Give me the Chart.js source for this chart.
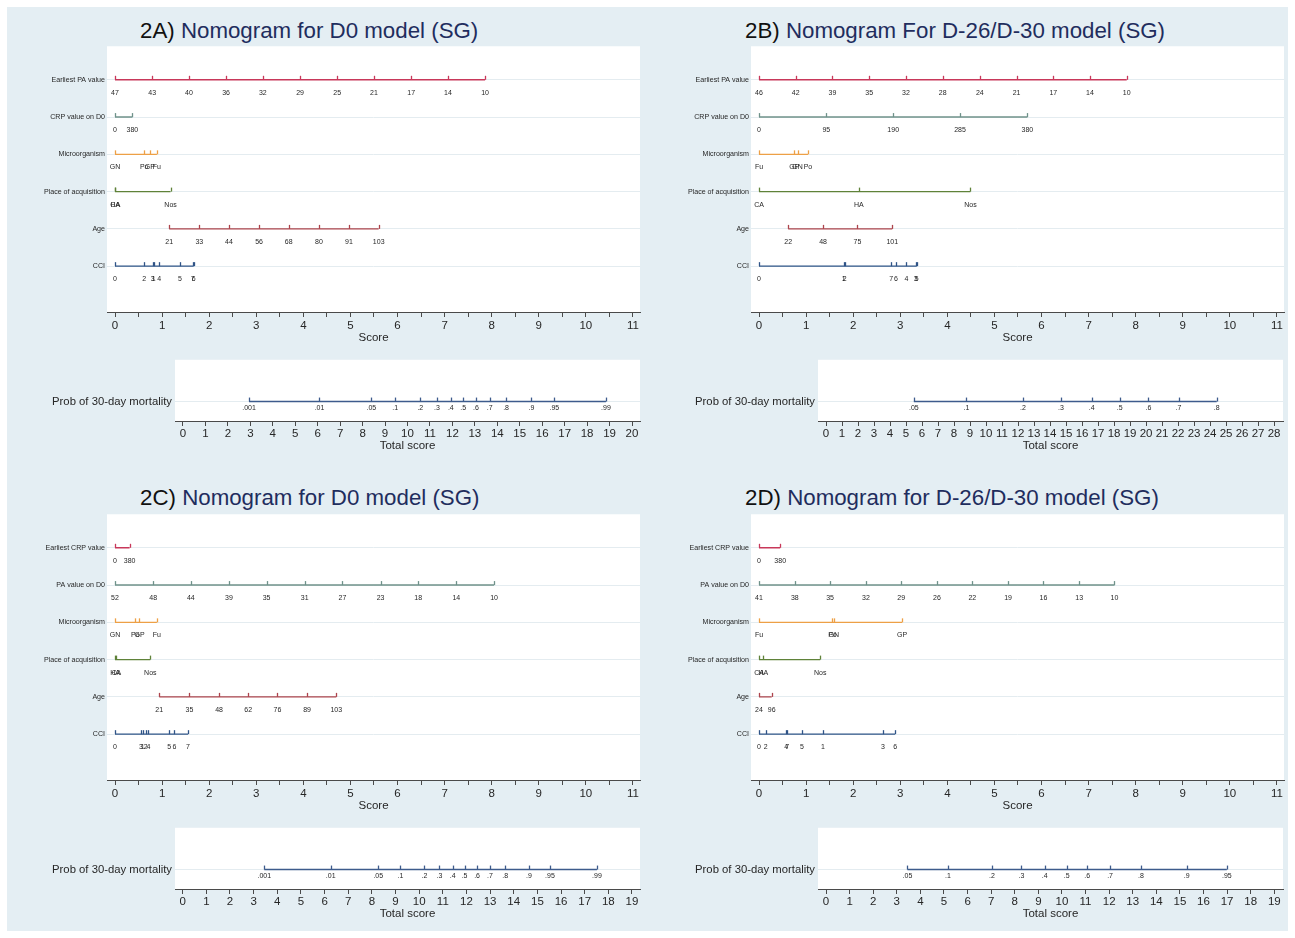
<!DOCTYPE html>
<html>
<head>
<meta charset="utf-8">
<script src="https://cdn.jsdelivr.net/npm/chart.js@4.4.1/dist/chart.umd.min.js"></script>
<style>
  html, body { margin: 0; padding: 0; background: #ffffff; }
  body { width: 1295px; height: 938px; position: relative; overflow: hidden;
         font-family: "Liberation Sans", Arial, sans-serif; }
  #bg { position: absolute; left: 7px; top: 7px; width: 1281px; height: 924px; background: #e4eef3; }
  .title { position: absolute; font-size: 22.3px; line-height: 26px; white-space: nowrap; color: #1f2d5e; }
  .title span { color: #111111; }
  canvas { position: absolute; }
</style>
</head>
<body>
<div id="bg"></div>

<div class="title" style="left:140px; top:18px;"><span>2A)</span> Nomogram for D0 model (SG)</div>
<div class="title" style="left:745px; top:18px;"><span>2B)</span> Nomogram For D-26/D-30 model (SG)</div>
<div class="title" style="left:140px; top:485px;"><span>2C)</span> Nomogram for D0 model (SG)</div>
<div class="title" style="left:745px; top:485px;"><span>2D)</span> Nomogram for D-26/D-30 model (SG)</div>

<canvas id="a_top" width="640" height="310" style="left:7px; top:40px;"></canvas>
<canvas id="a_bot" width="640" height="110" style="left:7px; top:350px;"></canvas>
<canvas id="b_top" width="640" height="310" style="left:651px; top:40px;"></canvas>
<canvas id="b_bot" width="640" height="110" style="left:651px; top:350px;"></canvas>
<canvas id="c_top" width="640" height="310" style="left:7px; top:508px;"></canvas>
<canvas id="c_bot" width="640" height="110" style="left:7px; top:818px;"></canvas>
<canvas id="d_top" width="640" height="310" style="left:651px; top:508px;"></canvas>
<canvas id="d_bot" width="640" height="110" style="left:651px; top:818px;"></canvas>

<script>
// ---------- Axis ticks ----------
const scoreTicks = [0, 0.5, 1, 1.5, 2, 2.5, 3, 3.5, 4, 4.5, 5, 5.5, 6, 6.5, 7, 7.5, 8, 8.5, 9, 9.5, 10, 10.5, 11];
const totalTicks19 = [0, 1, 2, 3, 4, 5, 6, 7, 8, 9, 10, 11, 12, 13, 14, 15, 16, 17, 18, 19];
const totalTicks20 = [0, 1, 2, 3, 4, 5, 6, 7, 8, 9, 10, 11, 12, 13, 14, 15, 16, 17, 18, 19, 20];
const totalTicks28 = [0, 1, 2, 3, 4, 5, 6, 7, 8, 9, 10, 11, 12, 13, 14, 15, 16, 17, 18, 19, 20, 21, 22, 23, 24, 25, 26, 27, 28];

const probLabelsWide = ['.001', '.01', '.05', '.1', '.2', '.3', '.4', '.5', '.6', '.7', '.8', '.9', '.95', '.99'];

// ---------- 2A) D0 model ----------
const rowsA = ['Earliest PA value', 'CRP value on D0', 'Microorganism', 'Place of acquisition', 'Age', 'CCI'];
const a_paLabels   = ['47', '43', '40', '36', '32', '29', '25', '21', '17', '14', '10'];
const a_paScores   = [0, 0.79, 1.57, 2.36, 3.14, 3.93, 4.72, 5.50, 6.29, 7.07, 7.86];
const a_crpLabels  = ['0', '380'];
const a_crpScores  = [0, 0.37];
const a_micLabels  = ['GN', 'Po', 'GP', 'Fu'];
const a_micScores  = [0, 0.62, 0.74, 0.89];
const a_plcLabels  = ['CA', 'HA', 'Nos'];
const a_plcScores  = [0, 0.01, 1.18];
const a_ageLabels  = ['21', '33', '44', '56', '68', '80', '91', '103'];
const a_ageScores  = [1.15, 1.79, 2.42, 3.06, 3.69, 4.33, 4.97, 5.60];
const a_cciLabels  = ['0', '2', '3', '1', '4', '5', '7', '6'];
const a_cciScores  = [0, 0.62, 0.80, 0.82, 0.94, 1.38, 1.65, 1.67];
const a_probScores = [2.94, 6.08, 8.39, 9.45, 10.57, 11.31, 11.93, 12.48, 13.05, 13.66, 14.39, 15.52, 16.54, 18.84];

// ---------- 2B) D-26/D-30 model ----------
const rowsB = ['Earliest PA value', 'CRP value on D0', 'Microorganism', 'Place of acquisition', 'Age', 'CCI'];
const b_paLabels   = ['46', '42', '39', '35', '32', '28', '24', '21', '17', '14', '10'];
const b_paScores   = [0, 0.78, 1.56, 2.34, 3.12, 3.90, 4.69, 5.47, 6.25, 7.03, 7.81];
const b_crpLabels  = ['0', '95', '190', '285', '380'];
const b_crpScores  = [0, 1.43, 2.85, 4.27, 5.70];
const b_micLabels  = ['Fu', 'GP', 'GN', 'Po'];
const b_micScores  = [0, 0.75, 0.82, 1.04];
const b_plcLabels  = ['CA', 'HA', 'Nos'];
const b_plcScores  = [0, 2.12, 4.49];
const b_ageLabels  = ['22', '48', '75', '101'];
const b_ageScores  = [0.62, 1.36, 2.09, 2.83];
const b_cciLabels  = ['0', '1', '2', '7', '6', '4', '3', '5'];
const b_cciScores  = [0, 1.80, 1.82, 2.81, 2.91, 3.13, 3.33, 3.35];
const b_probLabels = ['.05', '.1', '.2', '.3', '.4', '.5', '.6', '.7', '.8'];
const b_probScores = [5.49, 8.78, 12.31, 14.68, 16.60, 18.35, 20.15, 22.03, 24.42];

// ---------- 2C) D0 model ----------
const rowsC = ['Earliest CRP value', 'PA value on D0', 'Microorganism', 'Place of acquisition', 'Age', 'CCI'];
const c_crpLabels  = ['0', '380'];
const c_crpScores  = [0, 0.31];
const c_paLabels   = ['52', '48', '44', '39', '35', '31', '27', '23', '18', '14', '10'];
const c_paScores   = [0, 0.81, 1.61, 2.42, 3.22, 4.03, 4.83, 5.64, 6.44, 7.25, 8.05];
const c_micLabels  = ['GN', 'Po', 'GP', 'Fu'];
const c_micScores  = [0, 0.43, 0.52, 0.89];
const c_plcLabels  = ['HA', 'CA', 'Nos'];
const c_plcScores  = [0, 0.03, 0.75];
const c_ageLabels  = ['21', '35', '48', '62', '76', '89', '103'];
const c_ageScores  = [0.94, 1.58, 2.21, 2.83, 3.45, 4.08, 4.70];
const c_cciLabels  = ['0', '3', '1', '2', '4', '5', '6', '7'];
const c_cciScores  = [0, 0.55, 0.59, 0.65, 0.71, 1.15, 1.26, 1.55];
const c_probScores = [3.45, 6.26, 8.27, 9.21, 10.22, 10.86, 11.42, 11.92, 12.45, 12.99, 13.64, 14.64, 15.53, 17.52];

// ---------- 2D) D-26/D-30 model ----------
const rowsD = ['Earliest CRP value', 'PA value on D0', 'Microorganism', 'Place of acquisition', 'Age', 'CCI'];
const d_crpLabels  = ['0', '380'];
const d_crpScores  = [0, 0.45];
const d_paLabels   = ['41', '38', '35', '32', '29', '26', '22', '19', '16', '13', '10'];
const d_paScores   = [0, 0.76, 1.51, 2.27, 3.02, 3.78, 4.53, 5.29, 6.04, 6.80, 7.55];
const d_micLabels  = ['Fu', 'Po', 'GN', 'GP'];
const d_micScores  = [0, 1.56, 1.59, 3.04];
const d_plcLabels  = ['CA', 'HA', 'Nos'];
const d_plcScores  = [0, 0.09, 1.30];
const d_ageLabels  = ['24', '96'];
const d_ageScores  = [0, 0.27];
const d_cciLabels  = ['0', '2', '4', '7', '5', '1', '3', '6'];
const d_cciScores  = [0, 0.14, 0.58, 0.60, 0.91, 1.36, 2.63, 2.89];
const d_probLabels = ['.05', '.1', '.2', '.3', '.4', '.5', '.6', '.7', '.8', '.9', '.95'];
const d_probScores = [3.45, 5.17, 7.03, 8.28, 9.27, 10.20, 11.07, 12.04, 13.35, 15.29, 16.99];

// ---------- Styling ----------
const FONT = '"Liberation Sans", Arial, Helvetica, sans-serif';
const rowColors = ['#c8385a', '#6f928a', '#eda046', '#5f8239', '#ad444c', '#2f5487'];
const probColor = '#3d5b8c';
const textColor = '#262626';
const axisColor = '#4a4a4a';
const rowGridColor = '#e4ecf0';

Chart.defaults.font.family = FONT;
Chart.defaults.animation = false;

// White plot region, then the tick marks and value labels of every scale line
const nomogramMarks = {
  id: 'nomogramMarks',
  beforeDraw(chart) {
    const { ctx, chartArea: a } = chart;
    ctx.save();
    ctx.fillStyle = '#ffffff';
    ctx.fillRect(a.left, a.top, a.right - a.left, a.bottom - a.top);
    ctx.restore();
  },
  afterDatasetsDraw(chart) {
    const ctx = chart.ctx;
    chart.data.datasets.forEach((ds, i) => {
      const meta = chart.getDatasetMeta(i);
      ctx.save();
      ctx.strokeStyle = ds.borderColor;
      ctx.lineWidth = 1.3;
      ctx.fillStyle = textColor;
      ctx.font = ds.markFont;
      ctx.textAlign = 'center';
      ctx.textBaseline = 'middle';
      meta.data.forEach((pt, j) => {
        const x = Math.round(pt.x) + 0.5;
        ctx.beginPath();
        ctx.moveTo(x, pt.y);
        ctx.lineTo(x, pt.y - 4);
        ctx.stroke();
        ctx.fillText(ds.markLabels[j], pt.x, pt.y + ds.labelGap);
      });
      ctx.restore();
    });
  }
};

function scaleLine(scores, labels, row, color, gap) {
  return {
    data: scores.map(s => ({ x: s, y: row })),
    markLabels: labels,
    markFont: '7px ' + FONT,
    labelGap: gap,
    showLine: true,
    borderColor: color,
    borderWidth: 1.4,
    pointRadius: 0,
    pointHoverRadius: 0,
    tension: 0
  };
}

function pointsChart(id, rowNames, lines) {
  return new Chart(document.getElementById(id), {
    type: 'scatter',
    data: { datasets: lines.map((ln, i) => scaleLine(ln[0], ln[1], i, rowColors[i], 13)) },
    options: {
      responsive: false,
      events: [],
      layout: { padding: { left: 0, right: 7, top: 6, bottom: 2 } },
      plugins: { legend: { display: false }, tooltip: { enabled: false } },
      scales: {
        x: {
          type: 'linear', min: -0.17, max: 11.15,
          afterBuildTicks: s => { s.ticks = scoreTicks.map(v => ({ value: v })); },
          afterFit: s => { s.height = 36; },
          ticks: {
            autoSkip: false, maxRotation: 0, padding: 2, color: textColor,
            font: { size: 11.5 },
            callback: v => (Number.isInteger(v) ? String(v) : '')
          },
          grid: { drawOnChartArea: false, drawTicks: true, tickLength: 5, color: axisColor, lineWidth: 1 },
          border: { display: true, color: axisColor, width: 1 },
          title: { display: true, text: 'Score', color: textColor, font: { size: 11.5 }, padding: { top: 0, bottom: 3 } }
        },
        y: {
          type: 'linear', reverse: true, min: -0.90, max: 6.23,
          afterBuildTicks: s => { s.ticks = rowNames.map((_, i) => ({ value: i })); },
          afterFit: s => { s.width = 100; },
          ticks: { autoSkip: false, padding: 2, color: textColor, font: { size: 7.1 }, callback: v => rowNames[v] },
          grid: { color: rowGridColor, drawTicks: false, lineWidth: 1 },
          border: { display: false }
        }
      }
    },
    plugins: [nomogramMarks]
  });
}

function probChart(id, labels, scores, ticks, xmin, xmax, yAxisWidth, padRight) {
  return new Chart(document.getElementById(id), {
    type: 'scatter',
    data: { datasets: [scaleLine(scores, labels, 0, probColor, 6.5)] },
    options: {
      responsive: false,
      events: [],
      layout: { padding: { left: 0, right: padRight, top: 8, bottom: 2 } },
      plugins: { legend: { display: false }, tooltip: { enabled: false } },
      scales: {
        x: {
          type: 'linear', min: xmin, max: xmax,
          afterBuildTicks: s => { s.ticks = ticks.map(v => ({ value: v })); },
          afterFit: s => { s.height = 37; },
          ticks: { autoSkip: false, maxRotation: 0, padding: 1, color: textColor, font: { size: 11.5 } },
          grid: { drawOnChartArea: false, drawTicks: true, tickLength: 5, color: axisColor, lineWidth: 1 },
          border: { display: true, color: axisColor, width: 1 },
          title: { display: true, text: 'Total score', color: textColor, font: { size: 11.5 }, padding: { top: 0, bottom: 5 } }
        },
        y: {
          type: 'linear', reverse: true, min: -0.6825, max: 0.3175,
          afterBuildTicks: s => { s.ticks = [{ value: 0 }]; },
          afterFit: s => { s.width = yAxisWidth; },
          ticks: { autoSkip: false, padding: 3, color: textColor, font: { size: 11.3 }, callback: () => 'Prob of 30-day mortality' },
          grid: { color: rowGridColor, drawTicks: false, lineWidth: 1 },
          border: { display: false }
        }
      }
    },
    plugins: [nomogramMarks]
  });
}

// 2A
pointsChart('a_top', rowsA, [
  [a_paScores, a_paLabels], [a_crpScores, a_crpLabels], [a_micScores, a_micLabels],
  [a_plcScores, a_plcLabels], [a_ageScores, a_ageLabels], [a_cciScores, a_cciLabels]
]);
probChart('a_bot', probLabelsWide, a_probScores, totalTicks20, -0.356, 20.356, 168, 7);

// 2B
pointsChart('b_top', rowsB, [
  [b_paScores, b_paLabels], [b_crpScores, b_crpLabels], [b_micScores, b_micLabels],
  [b_plcScores, b_plcLabels], [b_ageScores, b_ageLabels], [b_cciScores, b_cciLabels]
]);
probChart('b_bot', b_probLabels, b_probScores, totalTicks28, -0.5, 28.56, 167, 8);

// 2C
pointsChart('c_top', rowsC, [
  [c_crpScores, c_crpLabels], [c_paScores, c_paLabels], [c_micScores, c_micLabels],
  [c_plcScores, c_plcLabels], [c_ageScores, c_ageLabels], [c_cciScores, c_cciLabels]
]);
probChart('c_bot', probLabelsWide, c_probScores, totalTicks19, -0.326, 19.34, 168, 7);

// 2D
pointsChart('d_top', rowsD, [
  [d_crpScores, d_crpLabels], [d_paScores, d_paLabels], [d_micScores, d_micLabels],
  [d_plcScores, d_plcLabels], [d_ageScores, d_ageLabels], [d_cciScores, d_cciLabels]
]);
probChart('d_bot', d_probLabels, d_probScores, totalTicks19, -0.34, 19.37, 167, 8);
</script>
</body>
</html>
